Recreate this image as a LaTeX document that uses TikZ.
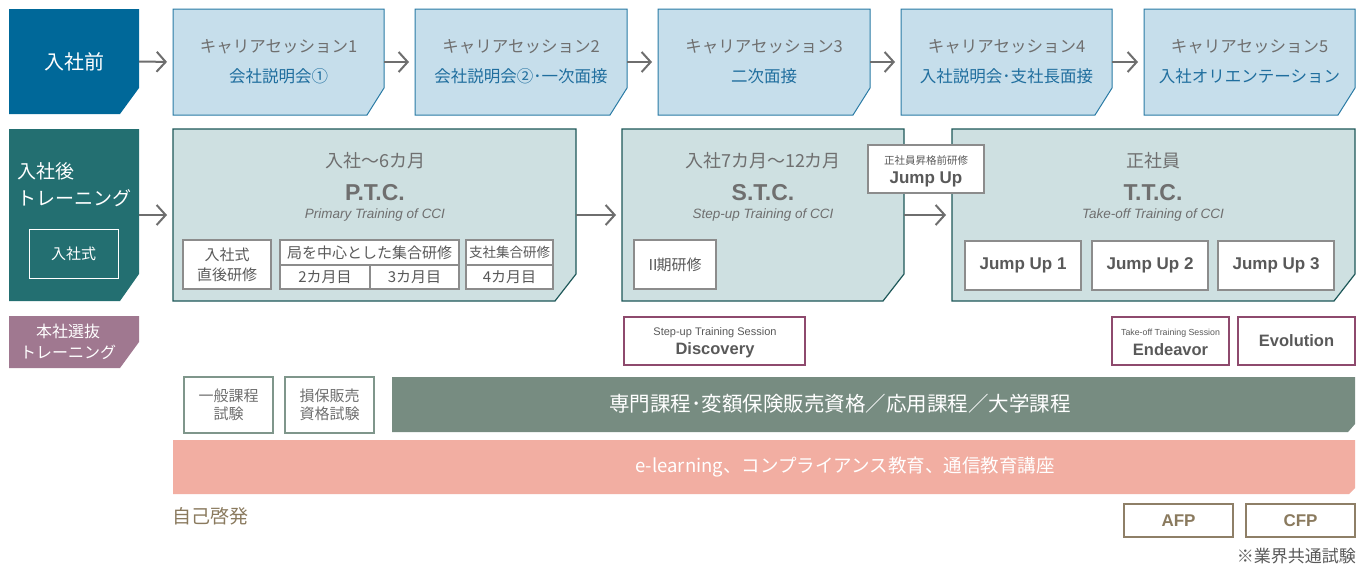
\documentclass[tikz,border=0pt]{standalone}
\usepackage{fontspec}
\setmainfont{Noto Sans CJK JP}
\newfontfamily\lat{Liberation Sans}
\usetikzlibrary{arrows.meta,calc}
\definecolor{blueD}{HTML}{006899}
\definecolor{blueL}{HTML}{C6DEEB}
\definecolor{blueB}{HTML}{2A7BA5}
\definecolor{blueT}{HTML}{1F6E9E}
\definecolor{grayT}{HTML}{6F6F6F}
\definecolor{arrgray}{HTML}{6E6E6E}
\definecolor{tealD}{HTML}{236F71}
\definecolor{tealL}{HTML}{CEE0E1}
\definecolor{tealB}{HTML}{1E5859}
\definecolor{mauve}{HTML}{A07890}
\definecolor{mauveB}{HTML}{8E4A6D}
\definecolor{greenB}{HTML}{778C81}
\definecolor{greenE}{HTML}{7F968B}
\definecolor{pinkB}{HTML}{F2AEA2}
\definecolor{brownT}{HTML}{8A7A5E}
\definecolor{brownB}{HTML}{8E7F67}
\definecolor{boxgray}{HTML}{8C8C8C}
\definecolor{subtext}{HTML}{595959}
\pgfdeclarelayer{bg}
\pgfsetlayers{bg,main}
\newcommand\fsz[2]{\fontsize{#1pt}{#2pt}\selectfont}
\newcommand\cutpath[3]{(#1.north west) -- (#1.north east) -- ([yshift=#3pt]#1.south east) -- ([xshift=-#2pt]#1.south east) -- (#1.south west) -- cycle}
\tikzset{
  base/.style={inner sep=0pt, outer sep=0pt, anchor=north west},
  bw/.style={minimum width=#1pt},
  bh/.style={minimum height=#1pt},
  arr/.style={draw=arrgray, line width=2pt, -{Straight Barb[length=9pt,width=20pt,line width=2pt]}, shorten >=6pt},
  sess/.style={base, bw=211, bh=106, align=center, font=\fsz{16.5}{30}},
  bigtxt/.style={text=grayT, font=\fsz{18}{20}},
  abbr/.style={text=grayT, font=\lat\bfseries\fsz{23}{24}},
  itl/.style={text=grayT, font=\lat\itshape\fsz{13.5}{15}},
  wbox/.style={base, draw=boxgray, line width=1.2pt, fill=white, text=subtext, align=center},
  mbox/.style={base, draw=mauveB, line width=1.2pt, fill=white, text=subtext, align=center},
  gbox/.style={base, draw=greenE, line width=1.5pt, fill=white, text=grayT, align=center, font=\fsz{15}{18}},
  qbox/.style={base, draw=brownB, line width=1.5pt, fill=white, text=brownT, font=\lat\bfseries\fsz{17}{18}},
  small/.style={inner sep=0pt, text=subtext},
}
\begin{document}
\begin{tikzpicture}[x=1pt,y=-1pt]
\useasboundingbox (0,0) rectangle (1364,566);
% ---------- row 1
\node[base,bw=130,bh=105,text=white,font=\fsz{20}{22}] (pre) at (9,9) {入社前};
\node[sess] (s1) at (173,9) {{\color{grayT}キャリアセッション1}\\{\color{blueT}会社説明会①}};
\node[sess,bw=212] (s2) at (415,9) {{\color{grayT}キャリアセッション2}\\{\color{blueT}会社説明会②･一次面接}};
\node[sess,bw=212] (s3) at (658,9) {{\color{grayT}キャリアセッション3}\\{\color{blueT}二次面接}};
\node[sess] (s4) at (901,9) {{\color{grayT}キャリアセッション4}\\{\color{blueT}入社説明会･支社長面接}};
\node[sess] (s5) at (1144,9) {{\color{grayT}キャリアセッション5}\\{\color{blueT}入社オリエンテーション}};
\draw[arr] (pre.east) -- (s1.west);
\draw[arr] (s1.east) -- (s2.west);
\draw[arr] (s2.east) -- (s3.west);
\draw[arr] (s3.east) -- (s4.west);
\draw[arr] (s4.east) -- (s5.west);
% ---------- row 2
\node[base,bw=130,bh=172] (aft) at (9,129) {};
\node[anchor=west,inner sep=0pt,align=left,text=white,font=\fsz{19}{27}] (afttxt) at (17,185) {入社後\\トレーニング};
\node[base,bw=89,bh=49,draw=white,line width=1pt,text=white,font=\fsz{15}{18}] (shiki) at (29,229) {入社式};
\node[base,bw=403,bh=172] (ptc) at (173,129) {};
\node[bigtxt] (ptc1) at (375,161) {入社〜6カ月};
\node[abbr] (ptc2) at (375,193) {P.T.C.};
\node[itl] (ptc3) at (375,215) {Primary Training of CCI};
\node[wbox,bw=88,bh=49,font=\fsz{15}{20}] (chokugo) at (183,240) {入社式\\直後研修};
\node[wbox,bw=179,bh=25,font=\fsz{15}{17}] (kyoku) at (280,240) {局を中心とした集合研修};
\node[wbox,bw=90,bh=24,font=\fsz{15}{17}] (m2) at (280,265) {2カ月目};
\node[wbox,bw=89,bh=24,font=\fsz{15}{17}] (m3) at (370,265) {3カ月目};
\node[wbox,bw=87,bh=25,font=\fsz{13.5}{16}] (shisha) at (466,240) {支社集合研修};
\node[wbox,bw=87,bh=24,font=\fsz{15}{17}] (m4) at (466,265) {4カ月目};
\node[base,bw=282,bh=172] (stc) at (622,129) {};
\node[bigtxt] (stc1) at (763,161) {入社7カ月〜12カ月};
\node[abbr] (stc2) at (763,193) {S.T.C.};
\node[itl] (stc3) at (763,215) {Step-up Training of CCI};
\node[wbox,bw=82,bh=49,font=\fsz{15}{17}] (ki2) at (634,240) {\kern-3ptⅡ\kern-4pt期研修};
\node[base,bw=403,bh=172] (ttc) at (952,129) {};
\node[bigtxt] (ttc1) at (1153,161) {正社員};
\node[abbr] (ttc2) at (1153,193) {T.T.C.};
\node[itl] (ttc3) at (1153,215) {Take-off Training of CCI};
\node[wbox,bw=116,bh=49,font=\lat\bfseries\fsz{17}{18}] (ju1) at (965,241) {Jump Up 1};
\node[wbox,bw=116,bh=49,font=\lat\bfseries\fsz{17}{18}] (ju2) at (1092,241) {Jump Up 2};
\node[wbox,bw=116,bh=49,font=\lat\bfseries\fsz{17}{18}] (ju3) at (1218,241) {Jump Up 3};
\node[wbox,bw=116,bh=48] (jumpup) at (868,145) {};
\node[small,font=\fsz{10.5}{12}] (jumpupA) at (926,160) {正社員昇格前研修};
\node[small,font=\lat\bfseries\fsz{17}{19}] (jumpupB) at (926,179) {Jump Up};
\draw[arr] (aft.east) -- (ptc.west);
\draw[arr] (ptc.east) -- (stc.west);
\draw[arr] (stc.east) -- (ttc.west);
% ---------- row 3
\node[base,bw=130,bh=52] (sel) at (9,316) {};
\node[align=center,inner sep=0pt,text=white,font=\fsz{16}{21}] (seltxt) at (68,342) {本社選抜\\トレーニング};
\node[mbox,bw=181,bh=48] (disc) at (624,317) {};
\node[small,font=\lat\fsz{11}{13}] (discA) at (715,333) {Step-up Training Session};
\node[small,font=\lat\bfseries\fsz{16.5}{19}] (discB) at (715,350) {Discovery};
\node[mbox,bw=117,bh=48] (endv) at (1112,317) {};
\node[small,font=\lat\fsz{8.8}{11}] (endvA) at (1170.5,333) {Take-off Training Session};
\node[small,font=\lat\bfseries\fsz{16.5}{19}] (endvB) at (1170.5,350) {Endeavor};
\node[mbox,bw=117,bh=48,font=\lat\bfseries\fsz{16.5}{19}] (evo) at (1238,317) {Evolution};
% ---------- row 4
\node[gbox,bw=89,bh=56] (ippan) at (184,377) {一般課程\\試験};
\node[gbox,bw=89,bh=56] (sonpo) at (285,377) {損保販売\\資格試験};
\node[base,bw=963,bh=55] (green) at (392,377) {};
\node[text=white,font=\fsz{20.5}{22}] (greentxt) at (840,404) {専門課程･変額保険販売資格／応用課程／大学課程};
\node[base,bw=1182,bh=54] (pink) at (173,440) {};
\node[text=white,font=\fsz{18.5}{22}] (pinktxt) at (845,467) {e-learning、コンプライアンス教育、通信教育講座};
\node[anchor=west,inner sep=0pt,text=brownT,font=\fsz{19}{22}] (jiko) at (172,516) {自己啓発};
\node[qbox,bw=109,bh=33] (afp) at (1124,504) {AFP};
\node[qbox,bw=109,bh=33] (cfp) at (1246,504) {CFP};
\node[anchor=east,inner sep=0pt,text=subtext,font=\fsz{17}{20}] (note) at (1356,556) {※業界共通試験};
% ---------- shapes
\begin{pgfonlayer}{bg}
\fill[white] (0,0) rectangle (1364,566);
\fill[blueD] \cutpath{pre}{19}{26};
\filldraw[fill=blueL,draw=blueB,line width=1pt] \cutpath{s1}{17}{27};
\filldraw[fill=blueL,draw=blueB,line width=1pt] \cutpath{s2}{17}{27};
\filldraw[fill=blueL,draw=blueB,line width=1pt] \cutpath{s3}{17}{27};
\filldraw[fill=blueL,draw=blueB,line width=1pt] \cutpath{s4}{17}{27};
\filldraw[fill=blueL,draw=blueB,line width=1pt] \cutpath{s5}{17}{27};
\fill[tealD] \cutpath{aft}{19}{27};
\filldraw[fill=tealL,draw=tealB,line width=1.2pt] \cutpath{ptc}{21}{27};
\filldraw[fill=tealL,draw=tealB,line width=1.2pt] \cutpath{stc}{21}{27};
\filldraw[fill=tealL,draw=tealB,line width=1.2pt] \cutpath{ttc}{21}{27};
\fill[mauve] \cutpath{sel}{19}{26};
\fill[greenB] \cutpath{green}{7}{8};
\fill[pinkB] \cutpath{pink}{6}{6};
\end{pgfonlayer}
\end{tikzpicture}
\end{document}
